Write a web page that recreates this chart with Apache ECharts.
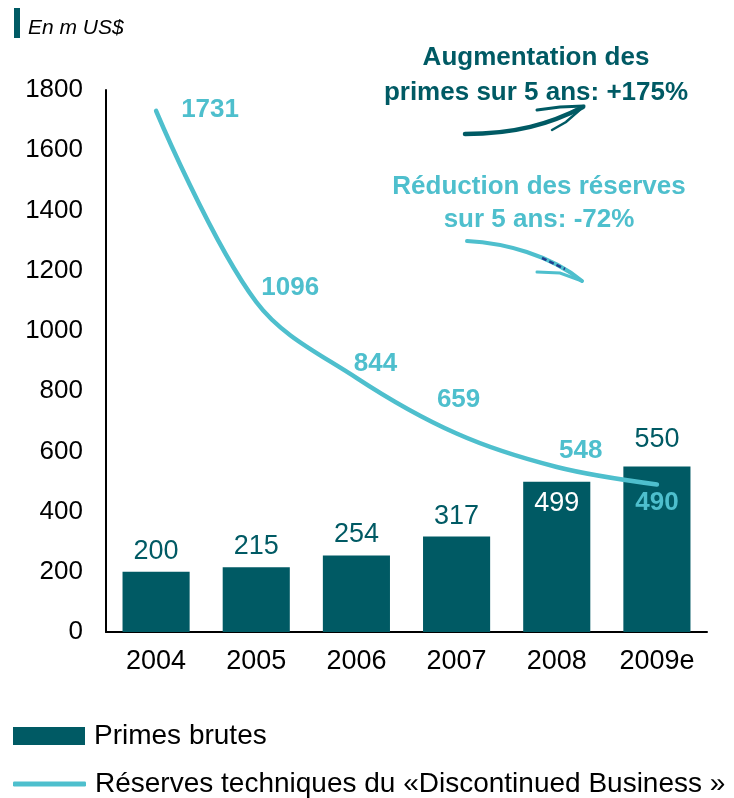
<!DOCTYPE html>
<html>
<head>
<meta charset="utf-8">
<script src="https://cdn.jsdelivr.net/npm/echarts@6/dist/echarts.min.js"></script>
<style>
  html, body { margin: 0; padding: 0; background: #fff; }
  #main { width: 734px; height: 798px; }
</style>
</head>
<body>
<div id="main"></div>
<script>
var years = ['2004', '2005', '2006', '2007', '2008', '2009e'];
var primes = [200, 215, 254, 317, 499, 550];
var reserves = [1731, 1096, 844, 659, 548, 490];
var yTicks = [0, 200, 400, 600, 800, 1000, 1200, 1400, 1600, 1800];

var primesName = 'Primes brutes';
var reservesName = 'Réserves techniques du «Discontinued Business »';

var dark = '#005A64';
var light = '#4EBFCD';
var font = '"Liberation Sans", Arial, sans-serif';

// where each line label sits relative to its point
var reserveLabelOffsets = [[54, -1], [34, -14], [19, -14], [2, -34], [24, -16], [0, 18]];

var chartDom = document.getElementById('main');
var myChart = echarts.init(chartDom);
var option;

var barData = primes.map(function (v, i) {
    var item = { value: v };
    if (years[i] === '2008') {
        item.label = { position: 'insideTop', color: '#fff', distance: 8 };
    } else if (years[i] === '2009e') {
        item.label = { distance: 13 };
    }
    return item;
});

var lineData = reserves.map(function (v, i) {
    return { value: v, label: { offset: reserveLabelOffsets[i] } };
});

var legendText = { fontSize: 28, color: '#000', fontFamily: font, padding: [0, 0, 0, 4] };

option = {
    animation: false,
    textStyle: { fontFamily: font },
    grid: {
        left: 106,
        right: 27,
        top: 90,
        bottom: 166
    },
    legend: [
        {
            left: 8,
            top: 717,
            itemWidth: 72,
            itemHeight: 18,
            itemGap: 0,
            textStyle: legendText,
            data: [{ name: primesName, icon: 'rect' }]
        },
        {
            left: 8,
            top: 765,
            itemWidth: 73,
            itemHeight: 5,
            textStyle: legendText,
            data: [{ name: reservesName, icon: 'roundRect', itemStyle: { color: light } }]
        }
    ],
    xAxis: {
        type: 'category',
        data: years,
        axisLine: { lineStyle: { color: '#000', width: 2 } },
        axisTick: { show: false },
        axisLabel: { fontSize: 27, color: '#000', margin: 16, fontFamily: font }
    },
    yAxis: {
        type: 'value',
        min: yTicks[0],
        max: yTicks[yTicks.length - 1],
        interval: 200,
        splitLine: { show: false },
        axisLine: { show: true, lineStyle: { color: '#000', width: 2 } },
        axisTick: { show: false },
        axisLabel: {
            fontSize: 26, color: '#000', margin: 23, fontFamily: font,
            formatter: function (v) { return String(v); }
        }
    },
    series: [
        {
            name: primesName,
            type: 'bar',
            barWidth: '67%',
            itemStyle: { color: dark },
            label: {
                show: true,
                position: 'top',
                distance: 7,
                fontSize: 27,
                color: dark,
                fontFamily: font
            },
            data: barData
        },
        {
            name: reservesName,
            type: 'line',
            smooth: 0.35,
            symbol: 'circle',
            symbolSize: 2,
            itemStyle: { color: light },
            lineStyle: { color: light, width: 4.5, cap: 'round' },
            label: {
                show: true,
                position: 'inside',
                fontSize: 26,
                fontWeight: 'bold',
                color: light,
                fontFamily: font
            },
            data: lineData,
            z: 3
        }
    ],
    graphic: [
        { type: 'rect', left: 14, top: 8, shape: { width: 6, height: 30 }, style: { fill: dark } },
        {
            type: 'text', left: 28, top: 18,
            style: { text: 'En m US$', font: 'italic 21px ' + font, fill: '#000' }
        },
        {
            type: 'text', x: 536, y: 40,
            style: {
                text: 'Augmentation des\nprimes sur 5 ans: +175%',
                font: 'bold 26px ' + font, fill: dark, align: 'center', lineHeight: 35
            }
        },
        {
            type: 'text', x: 539, y: 170,
            style: {
                text: 'Réduction des réserves\nsur 5 ans: -72%',
                font: 'bold 26px ' + font, fill: light, align: 'center', lineHeight: 33
            }
        },
        // hand drawn arrow, primes
        {
            type: 'bezierCurve',
            shape: { x1: 465, y1: 134, cpx1: 515, cpy1: 134, cpx2: 550, cpy2: 124, x2: 583, y2: 107 },
            style: { stroke: dark, lineWidth: 4.5, fill: null, lineCap: 'round' }
        },
        {
            type: 'polyline',
            shape: { points: [[537, 110], [560, 107], [584, 106]] },
            style: { stroke: dark, lineWidth: 3, fill: null, lineCap: 'round' }
        },
        {
            type: 'polyline',
            shape: { points: [[552, 130], [566, 122], [582, 108]] },
            style: { stroke: dark, lineWidth: 2.5, fill: null, lineCap: 'round' }
        },
        // hand drawn arrow, reserves
        {
            type: 'bezierCurve',
            shape: { x1: 467, y1: 241, cpx1: 505, cpy1: 243, cpx2: 550, cpy2: 255, x2: 582, y2: 281 },
            style: { stroke: light, lineWidth: 4, fill: null, lineCap: 'round' }
        },
        {
            type: 'polyline',
            shape: { points: [[537, 272], [560, 273], [582, 281]] },
            style: { stroke: light, lineWidth: 3, fill: null, lineCap: 'round' }
        },
        {
            type: 'line',
            shape: { x1: 542, y1: 258, x2: 565, y2: 269 },
            style: { stroke: '#1F3F8F', lineWidth: 2.5, lineDash: [5, 3] }
        }
    ]
};

option && myChart.setOption(option);
</script>
</body>
</html>
